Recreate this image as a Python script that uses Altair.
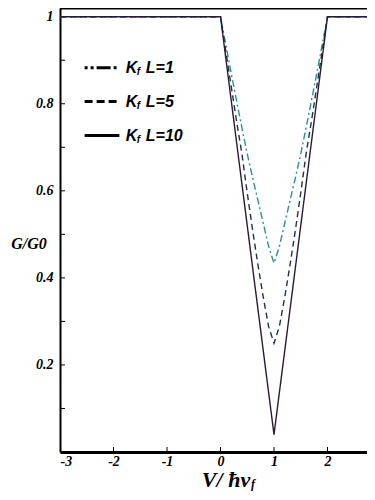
import altair as alt
import pandas as pd

# ---- data ----
x_dip = [0.0, 0.1, 0.2, 0.3, 0.4, 0.5, 0.6, 0.7, 0.8, 0.9, 1.0,
         1.1, 1.2, 1.3, 1.4, 1.5, 1.6, 1.7, 1.8, 1.9, 2.0]
g_kl1_half = [1.0, 0.935, 0.87, 0.807, 0.745, 0.685, 0.63, 0.578, 0.525, 0.472, 0.434]
g_kl5_half = [1.0, 0.92, 0.84, 0.76, 0.685, 0.595, 0.51, 0.43, 0.355, 0.288, 0.25]
g_kl10_half = [1.0, 0.904, 0.808, 0.712, 0.616, 0.52, 0.424, 0.328, 0.232, 0.136, 0.04]
x_flat_left = [-3.0]
x_flat_right = [3.0]

series_names = ["KfL=1", "KfL=5", "KfL=10"]
legend_labels = ["L=1", "L=5", "L=10"]
legend_y = [0.883, 0.805, 0.727]
legend_x0 = -2.54
legend_x1 = -1.89
legend_text_x = -1.77

x_ticks_labeled = [-3, -2, -1, 0, 1, 2]
x_ticks_marks = [-2, -1, 0, 1, 2]
y_ticks_labeled = [0.2, 0.4, 0.6, 0.8, 1.0]
y_ticks_marks = [0.1, 0.2, 0.3, 0.4, 0.5, 0.6, 0.7, 0.8, 0.9]

colors = ["#2f8f96", "#1f3344", "#2a1a36"]
dashes = [[7, 3, 2, 3], [6, 4], [1, 0]]
legend_dashes = [[3, 3, 3, 3, 14, 3], [8, 4], [1, 0]]


def full(half):
    return [1.0] + half + half[-2::-1] + [1.0]


xs = x_flat_left + x_dip + x_flat_right
frames = []
for name, half in zip(series_names, [g_kl1_half, g_kl5_half, g_kl10_half]):
    frames.append(pd.DataFrame({"x": xs, "g": full(half), "s": name}))
df = pd.concat(frames, ignore_index=True)

W, H = 307, 444
xscale = alt.Scale(domain=[-3, -3 + W / 53.5], nice=False, zero=False)
yscale = alt.Scale(domain=[0, 1.02], nice=False, zero=False)

label_font = "Liberation Serif"

base = alt.Chart(df)
layers = []
for name, c, d in zip(series_names, colors, dashes):
    layers.append(
        base.transform_filter(alt.datum.s == name).mark_line(
            clip=True, color=c, strokeWidth=1.4, strokeDash=d
        ).encode(
            x=alt.X("x:Q", scale=xscale,
                    axis=alt.Axis(values=x_ticks_labeled, title=None, tickSize=0,
                                  labelExpr="'' + datum.value",
                                  labelFont=label_font, labelFontSize=14,
                                  labelFontWeight="bold", labelFontStyle="italic",
                                  labelPadding=2, domainColor="black", domainWidth=3,
                                  grid=False, labelColor="black")),
            y=alt.Y("g:Q", scale=yscale,
                    axis=alt.Axis(values=y_ticks_labeled, title=None, tickSize=0,
                                  labelExpr="datum.value == 1 ? '1' : format(datum.value, '.1f')",
                                  labelFont=label_font, labelFontSize=14,
                                  labelFontWeight="bold", labelFontStyle="italic",
                                  labelPadding=7, domainColor="black", domainWidth=2,
                                  grid=False, labelColor="black")),
        )
    )

# inward ticks
yt = alt.Chart(pd.DataFrame({"v": y_ticks_marks})).mark_rule(color="black", strokeWidth=1).encode(
    y=alt.Y("v:Q", scale=yscale), x=alt.value(0), x2=alt.value(5))
xt = alt.Chart(pd.DataFrame({"v": x_ticks_marks})).mark_rule(color="black", strokeWidth=1).encode(
    x=alt.X("v:Q", scale=xscale), y=alt.value(H), y2=alt.value(H - 5))

# top frame
top = alt.Chart(pd.DataFrame({"a": [0]})).mark_rule(color="black", strokeWidth=3).encode(
    x=alt.value(0), x2=alt.value(W), y=alt.value(0))

# legend
leg_df = pd.DataFrame({"s": series_names, "lab": legend_labels, "y": legend_y,
                       "x0": [legend_x0] * 3, "x1": [legend_x1] * 3,
                       "xt": [legend_text_x] * 3})
leg_layers = []
for i, d in enumerate(legend_dashes):
    sub = leg_df.iloc[[i]]
    leg_layers.append(alt.Chart(sub).mark_rule(color="black", strokeWidth=3, strokeDash=d).encode(
        x=alt.X("x0:Q", scale=xscale), x2="x1:Q", y=alt.Y("y:Q", scale=yscale)))
leg_font = "Liberation Sans Narrow, Liberation Sans, Arial"
legK = alt.Chart(leg_df).mark_text(align="left", baseline="middle", font=leg_font, fontSize=16,
                                   fontWeight="bold", fontStyle="italic", color="black").encode(
    x=alt.X("xt:Q", scale=xscale), y=alt.Y("y:Q", scale=yscale), text=alt.value("K"))
legf = alt.Chart(leg_df).mark_text(align="left", baseline="middle", font=leg_font, fontSize=10,
                                   fontWeight="bold", fontStyle="italic", color="black",
                                   dx=11, dy=4).encode(
    x=alt.X("xt:Q", scale=xscale), y=alt.Y("y:Q", scale=yscale), text=alt.value("f"))
legL = alt.Chart(leg_df).mark_text(align="left", baseline="middle", font=leg_font, fontSize=16,
                                   fontWeight="bold", fontStyle="italic", color="black",
                                   dx=20).encode(
    x=alt.X("xt:Q", scale=xscale), y=alt.Y("y:Q", scale=yscale), text="lab:N")

# axis titles
ytitle = alt.Chart(pd.DataFrame({"t": ["G/G0"]})).mark_text(
    align="center", baseline="middle", font=label_font, fontSize=16, fontWeight="bold",
    fontStyle="italic", color="black").encode(x=alt.value(-31), y=alt.value(236), text="t:N")
xtitle = alt.Chart(pd.DataFrame({"t": ["V/ ħv"]})).mark_text(
    align="center", baseline="alphabetic", font=label_font, fontSize=22, fontWeight="bold",
    fontStyle="italic", color="black").encode(x=alt.value(166), y=alt.value(479), text="t:N")
xsub = alt.Chart(pd.DataFrame({"t": ["f"]})).mark_text(
    align="left", baseline="alphabetic", font=label_font, fontSize=12, fontWeight="bold",
    fontStyle="italic", color="black").encode(x=alt.value(191), y=alt.value(480), text="t:N")

chart = alt.layer(*layers, yt, xt, top, *leg_layers, legK, legf, legL, ytitle, xtitle, xsub).properties(
    width=W, height=H,
    autosize=alt.AutoSizeParams(type="none"),
    padding={"left": 52, "top": 0, "right": 0, "bottom": 40},
).configure_view(stroke=None).configure(background="white")

chart.save("out.html", embed_options={"renderer": "svg", "actions": False})
